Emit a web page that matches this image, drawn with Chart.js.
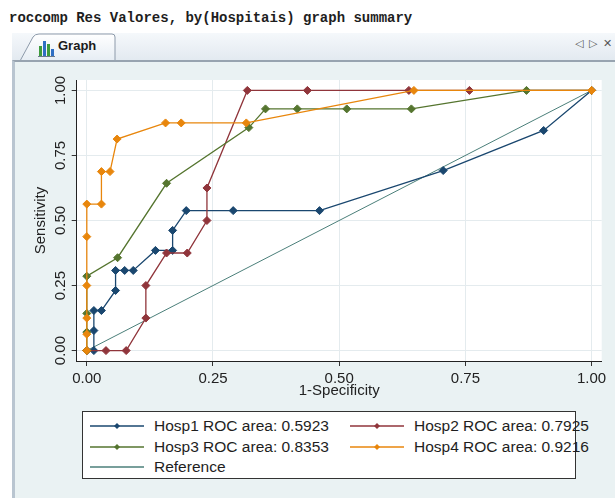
<!DOCTYPE html>
<html>
<head>
<meta charset="utf-8">
<script src="https://cdn.jsdelivr.net/npm/chart.js@4.4.1/dist/chart.umd.min.js"></script>
<style>
body{margin:0;width:615px;height:498px;overflow:hidden;background:#fff;position:relative;font-family:"Liberation Sans",Arial,sans-serif}
#cmd{position:absolute;left:9px;top:9px;font:bold 14px "Liberation Mono",monospace;color:#1e1e1e;white-space:pre;line-height:18px}
#strip{position:absolute;left:12px;top:33px;width:603px;height:28px;background:linear-gradient(#f5f8fb,#e2e9f0)}
#tabsvg{position:absolute;left:0;top:30px}
#tablabel{position:absolute;left:58px;top:38px;font:bold 13px "Liberation Sans",Arial,sans-serif;color:#1b1b1b}
#nav{position:absolute;left:575px;top:37px;font:11px "DejaVu Sans",sans-serif;color:#555;white-space:nowrap;letter-spacing:1px}
#frame{position:absolute;left:12px;top:60px;width:603px;height:438px;background:#eaf2f3;border-top:2px solid #98a4b0;border-left:3px solid #b9c5d0;box-sizing:border-box}
#wrap{position:absolute;left:15px;top:63px;width:600px;height:340px}
#legend{position:absolute;left:82px;top:411px;width:494px;height:68px;background:#fff;border:1px solid #333;box-sizing:border-box}
.item{position:absolute;height:20px;font-size:15.5px;color:#1e1e1e;line-height:20px;white-space:nowrap}
.item svg{position:absolute;left:0;top:4px}
.item span{position:absolute;left:64px;top:0}
</style>
</head>
<body>
<div id="cmd">roccomp Res Valores, by(Hospitais) graph summary</div>
<div id="strip"></div>
<svg id="tabsvg" width="130" height="32">
  <defs>
    <linearGradient id="tg" x1="0" y1="0" x2="0" y2="1">
      <stop offset="0" stop-color="#ffffff"/>
      <stop offset="1" stop-color="#e6edf4"/>
    </linearGradient>
  </defs>
  <path d="M20 31 L33 7 Q35 4 39 4 L112 4 Q115 4 115 7 L115 31" fill="url(#tg)" stroke="#8d9aaa" stroke-width="1"/>
  <rect x="39" y="16" width="3" height="10" fill="#3d9b3d"/>
  <rect x="43" y="11" width="3" height="15" fill="#2f6fc4"/>
  <rect x="47" y="14" width="3" height="12" fill="#3d9b3d"/>
  <rect x="51" y="19" width="3" height="7" fill="#2f6fc4"/>
  <rect x="38" y="26" width="17" height="1" fill="#6a7a8a"/>
</svg>
<div id="tablabel">Graph</div>
<div id="nav">◁ ▷ ✕</div>
<div id="frame"></div>
<div id="wrap"><canvas id="roc"></canvas></div>
<div id="legend"></div>

<script>
// ROC points per hospital: 1-specificity (x) and sensitivity (y)
const hosp1Fpr  = [0, 0.014, 0.014, 0.014, 0.029, 0.057, 0.057, 0.075, 0.092, 0.136, 0.170, 0.170, 0.197, 0.290, 0.461, 0.706, 0.905, 1];
const hosp1Sens = [0, 0, 0.077, 0.154, 0.154, 0.231, 0.308, 0.308, 0.308, 0.385, 0.385, 0.462, 0.538, 0.538, 0.538, 0.692, 0.846, 1];

const hosp2Fpr  = [0, 0.038, 0.078, 0.117, 0.117, 0.158, 0.199, 0.238, 0.238, 0.318, 0.437, 0.638, 0.758, 1];
const hosp2Sens = [0, 0, 0, 0.125, 0.25, 0.375, 0.375, 0.5, 0.625, 1, 1, 1, 1, 1];

const hosp3Fpr  = [0, 0, 0, 0, 0.061, 0.158, 0.321, 0.354, 0.417, 0.515, 0.643, 0.871, 1];
const hosp3Sens = [0, 0.071, 0.143, 0.286, 0.357, 0.643, 0.857, 0.929, 0.929, 0.929, 0.929, 1, 1];

const hosp4Fpr  = [0, 0, 0, 0, 0, 0, 0.029, 0.029, 0.046, 0.060, 0.156, 0.187, 0.316, 0.648, 1];
const hosp4Sens = [0, 0.063, 0.125, 0.25, 0.438, 0.563, 0.563, 0.688, 0.688, 0.813, 0.875, 0.875, 0.875, 1, 1];

const refFpr  = [0, 1];
const refSens = [0, 1];

const hospNames = ["Hosp1", "Hosp2", "Hosp3", "Hosp4"];
const rocAreas  = ["0.5923", "0.7925", "0.8353", "0.9216"];
const axisTicks = [0, 0.25, 0.5, 0.75, 1];

const colors = ["#1a476f", "#90353b", "#55752f", "#e8860c"];
const refColor = "#4b7f7a";

function pts(xs, ys){
  return xs.map((x, i) => ({x: x, y: ys[i]}));
}

const curves = [[hosp1Fpr, hosp1Sens], [hosp2Fpr, hosp2Sens], [hosp3Fpr, hosp3Sens], [hosp4Fpr, hosp4Sens]];

let datasets = curves.map((c, i) => ({
  label: hospNames[i] + " ROC area: " + rocAreas[i],
  data: pts(c[0], c[1]),
  borderColor: colors[i],
  backgroundColor: colors[i],
  borderWidth: 1.3,
  pointStyle: "rectRot",
  pointRadius: 4,
  pointBorderWidth: 1,
  order: 4 - i
}));

datasets.push({
  label: "Reference",
  data: pts(refFpr, refSens),
  borderColor: refColor,
  borderWidth: 1,
  pointRadius: 0,
  order: 5
});

// white plot region
const plotBg = {
  id: "plotBg",
  beforeDraw(chart){
    const a = chart.chartArea, ctx = chart.ctx;
    ctx.save();
    ctx.fillStyle = "#fff";
    ctx.fillRect(a.left, a.top, a.right - a.left, a.bottom - a.top);
    ctx.restore();
  }
};

// y tick labels run vertically
const yLabels = {
  id: "yLabels",
  afterDraw(chart){
    const y = chart.scales.y, ctx = chart.ctx;
    ctx.save();
    ctx.font = '15px "Liberation Sans", Arial, sans-serif';
    ctx.fillStyle = "#222";
    ctx.textAlign = "center";
    ctx.textBaseline = "middle";
    axisTicks.forEach(v => {
      ctx.save();
      ctx.translate(y.right - 15.5, y.getPixelForValue(v));
      ctx.rotate(-Math.PI / 2);
      ctx.fillText(v.toFixed(2), 0, 0);
      ctx.restore();
    });
    ctx.restore();
  }
};

const fixTicks = s => { s.ticks = axisTicks.map(v => ({value: v})); };

new Chart(document.getElementById("roc"), {
  type: "line",
  data: {datasets: datasets},
  options: {
    responsive: true,
    maintainAspectRatio: false,
    animation: false,
    layout: {padding: {top: 17, right: 13.3, left: 0, bottom: 0}},
    plugins: {legend: {display: false}, tooltip: {enabled: false}},
    elements: {line: {tension: 0}},
    scales: {
      x: {
        type: "linear",
        min: -0.02, max: 1.02,
        afterBuildTicks: fixTicks,
        afterFit: s => { s.height = 42; },
        grid: {color: "#e4ebee", tickColor: "#333", tickLength: 5},
        border: {color: "#222", width: 1},
        ticks: {
          color: "#222", padding: 4, maxRotation: 0,
          font: {family: "Liberation Sans", size: 15},
          callback: v => v.toFixed(2)
        },
        title: {display: true, text: "1-Specificity", color: "#222", padding: {top: 0, bottom: 3},
          font: {family: "Liberation Sans", size: 15}}
      },
      y: {
        type: "linear",
        min: -0.04, max: 1.04,
        afterBuildTicks: fixTicks,
        afterFit: s => { s.width = 61.7; },
        grid: {color: "#e4ebee", tickColor: "#333", tickLength: 5},
        border: {color: "#222", width: 1},
        ticks: {display: false},
        title: {display: true, text: "Sensitivity", color: "#222", padding: {top: 17, bottom: 0},
          font: {family: "Liberation Sans", size: 15}}
      }
    }
  },
  plugins: [plotBg, yLabels]
});

// legend box: two columns, reference on its own row
const legend = document.getElementById("legend");
const slots = [[7, 4], [267, 4], [7, 24.5], [267, 24.5], [7, 45]];
datasets.forEach((d, i) => {
  const el = document.createElement("div");
  el.className = "item";
  el.style.left = slots[i][0] + "px";
  el.style.top = slots[i][1] + "px";
  const marker = d.pointRadius ? '<path d="M27 3 L30 6 L27 9 L24 6 Z" fill="' + d.borderColor + '"/>' : "";
  el.innerHTML = '<svg width="56" height="12"><line x1="0" y1="6" x2="54" y2="6" stroke="' + d.borderColor +
    '" stroke-width="1.3"/>' + marker + '</svg><span>' + d.label + '</span>';
  legend.appendChild(el);
});
</script>
</body>
</html>
